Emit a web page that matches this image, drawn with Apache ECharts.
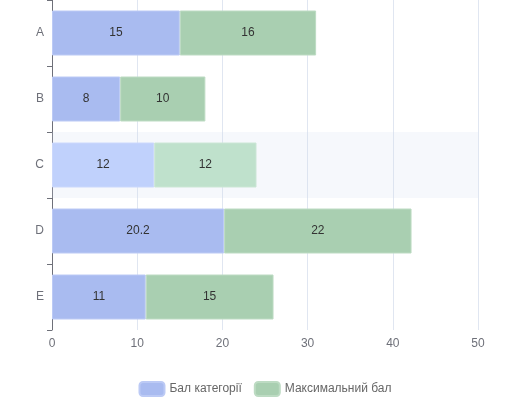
<!DOCTYPE html>
<html><head><meta charset="utf-8">
<script src="https://cdn.jsdelivr.net/npm/echarts@6/dist/echarts.min.js"></script>
<style>html,body{margin:0;padding:0;background:#fff}#c{width:530px;height:400px}</style>
</head><body><div id="c"></div>
<script>
const categories = ['A', 'B', 'C', 'D', 'E'];
const seriesNames = ['Бал категорії', 'Максимальний бал'];
const categoryScores = [15, 8, 12, 20.2, 11];
const maxScores = [16, 10, 12, 22, 15];
const xTicks = [0, 10, 20, 30, 40, 50];
const highlighted = 'C';

const colors = ['#a9bbf0', '#a9cfb1'];
const borders = ['#bccaf5', '#bddbc3'];
const hiColors = ['#c0d1fc', '#bfe1cc'];
const hiBorders = ['#cbd8fc', '#cbe6d5'];

function build(vals, k) {
  return vals.map((v, i) => categories[i] === highlighted
    ? { value: v, itemStyle: { color: hiColors[k], borderColor: hiBorders[k] } }
    : v);
}

const chart = echarts.init(document.getElementById('c'));
chart.setOption({
  animation: false,
  color: colors,
  grid: { left: 52, right: 52, top: 0, height: 330, containLabel: false },
  legend: {
    top: 376, left: 'center', itemWidth: 25, itemHeight: 14, itemGap: 12,
    textStyle: { color: '#666', fontSize: 12 }
  },
  xAxis: {
    type: 'value', min: xTicks[0], max: xTicks[xTicks.length - 1], interval: 10,
    axisLabel: { color: '#6e7079', fontSize: 12, margin: 8 },
    splitLine: { lineStyle: { color: '#e0e6f1' } }
  },
  yAxis: {
    type: 'category', data: categories, inverse: true,
    axisLine: { show: true, lineStyle: { color: '#6e7079' } },
    axisTick: { show: true, length: 5, lineStyle: { color: '#6e7079' } },
    axisLabel: { color: '#6e7079', fontSize: 12, margin: 8 }
  },
  series: [
    {
      name: seriesNames[0], type: 'bar', stack: 's', barWidth: 45,
      data: build(categoryScores, 0),
      itemStyle: { borderColor: borders[0], borderWidth: 1 },
      label: { show: true, position: 'inside', color: '#333', fontSize: 12 },
      markArea: {
        silent: true,
        itemStyle: { color: 'rgba(210,219,238,0.2)' },
        data: [[{ yAxis: highlighted, x: 52 }, { yAxis: highlighted, x: 478 }]]
      }
    },
    {
      name: seriesNames[1], type: 'bar', stack: 's', barWidth: 45,
      data: build(maxScores, 1),
      itemStyle: { borderColor: borders[1], borderWidth: 1 },
      label: { show: true, position: 'inside', color: '#333', fontSize: 12 }
    }
  ]
});
</script></body></html>
